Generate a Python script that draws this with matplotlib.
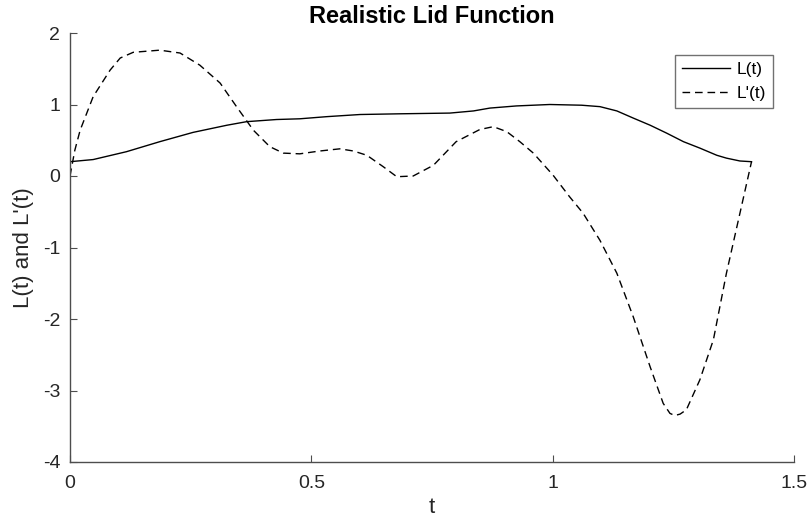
import matplotlib.pyplot as plt

plt.rcParams['font.family'] = ['Liberation Sans', 'DejaVu Sans']
plt.rcParams['axes.unicode_minus'] = False

# valores
t_L = [0.0, 0.048, 0.117, 0.186, 0.255, 0.325, 0.366, 0.428, 0.476, 0.532,
       0.601, 0.684, 0.787, 0.836, 0.87, 0.925, 0.994, 1.06, 1.098, 1.133,
       1.167, 1.202, 1.236, 1.271, 1.305, 1.34, 1.36, 1.388, 1.412]
L = [0.2, 0.23, 0.34, 0.48, 0.61, 0.71, 0.76, 0.79, 0.8, 0.83,
     0.86, 0.87, 0.88, 0.91, 0.95, 0.98, 1.0, 0.99, 0.97, 0.91,
     0.81, 0.71, 0.6, 0.48, 0.39, 0.29, 0.25, 0.21, 0.2]

t_dL = [0.0, 0.01, 0.021, 0.048, 0.083, 0.104, 0.131, 0.186, 0.228, 0.269,
        0.311, 0.345, 0.38, 0.414, 0.442, 0.476, 0.518, 0.559, 0.587, 0.615,
        0.649, 0.677, 0.711, 0.753, 0.8, 0.849, 0.877, 0.905, 0.932, 0.96,
        1.001, 1.035, 1.063, 1.098, 1.133, 1.167, 1.202, 1.229, 1.243, 1.253,
        1.264, 1.277, 1.305, 1.333, 1.36, 1.388, 1.412]
dL = [0.0, 0.36, 0.64, 1.11, 1.48, 1.65, 1.73, 1.76, 1.72, 1.55,
      1.3, 0.97, 0.64, 0.41, 0.32, 0.31, 0.35, 0.38, 0.35, 0.29,
      0.13, -0.01, 0.0, 0.15, 0.48, 0.65, 0.69, 0.62, 0.48, 0.32,
      0.01, -0.29, -0.52, -0.9, -1.36, -1.97, -2.67, -3.18, -3.32, -3.35,
      -3.33, -3.27, -2.85, -2.29, -1.36, -0.52, 0.2]

fig = plt.figure(figsize=(8.12, 5.31), dpi=100)
ax = fig.add_axes([70 / 812, (531 - 462) / 531, 724 / 812, 429 / 531])

ax.plot(t_L, L, color='black', lw=1.0, solid_joinstyle='round', label='L(t)')
ax.plot(t_dL, dL, color='black', lw=1.0, dashes=(5.5, 3.5),
        dash_joinstyle='round', label="L'(t)")

ax.set_xlim(0, 1.5)
ax.set_ylim(-4, 2)
ax.set_xticks([0, 0.5, 1, 1.5])
ax.set_xticklabels(['0', '0.5', '1', '1.5'])
ax.set_yticks([-4, -3, -2, -1, 0, 1, 2])

for s in ['top', 'right']:
    ax.spines[s].set_visible(False)
for s in ['left', 'bottom']:
    ax.spines[s].set_color('#4d4d4d')
    ax.spines[s].set_linewidth(1.0)
ax.tick_params(direction='in', length=5, width=0.8, colors='#4d4d4d',
               labelcolor='#262626', labelsize=14)
ax.tick_params(axis='x', pad=9)
ax.tick_params(axis='y', pad=7)

ax.set_title('Realistic Lid Function', fontsize=17, fontweight='bold', pad=7)
ax.set_xlabel('t', fontsize=16, color='#262626', labelpad=4)
ax.set_ylabel("L(t) and L'(t)", fontsize=16, color='#262626', labelpad=6)

leg = ax.legend(loc='upper right', bbox_to_anchor=(703 / 724, (462 - 55) / 429),
                fontsize=12.5, frameon=True, fancybox=False, handlelength=2.75,
                borderpad=0.4, labelspacing=0.5, handletextpad=0.4,
                borderaxespad=0.0)
leg.get_frame().set_edgecolor('#4d4d4d')
leg.get_frame().set_linewidth(1.0)

fig.savefig('out.png', dpi=100)
